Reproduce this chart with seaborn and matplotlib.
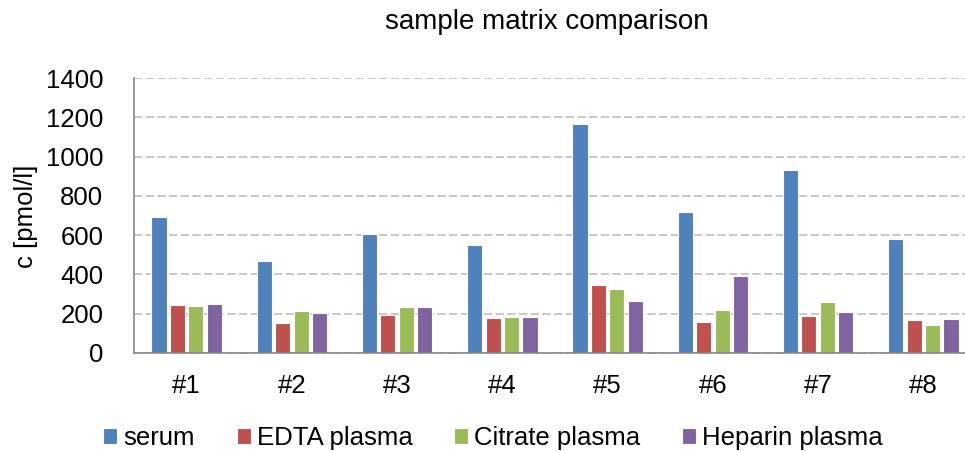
import pandas as pd
import matplotlib.pyplot as plt
import seaborn as sns

# ── data ────────────────────────────────────────────────────────────
samples = ["#1", "#2", "#3", "#4", "#5", "#6", "#7", "#8"]
serum = [692, 470, 608, 551, 1167, 720, 932, 579]
edta_plasma = [243, 152, 191, 177, 345, 160, 186, 167]
citrate_plasma = [238, 213, 235, 184, 324, 221, 262, 145]
heparin_plasma = [248, 203, 235, 182, 267, 390, 211, 171]
matrices = ["serum", "EDTA plasma", "Citrate plasma", "Heparin plasma"]
colors = ["#4F81BD", "#C0504D", "#9BBB59", "#8064A2"]

df = pd.DataFrame({
    "sample": samples * 4,
    "matrix": sum([[m] * len(samples) for m in matrices], []),
    "c": serum + edta_plasma + citrate_plasma + heparin_plasma,
})

sns.set_style("white")
plt.rcParams["font.family"] = ["Liberation Sans", "DejaVu Sans"]
plt.rcParams["text.color"] = "black"
plt.rcParams["xtick.color"] = "black"
plt.rcParams["ytick.color"] = "black"

W, H = 965, 451
fig = plt.figure(figsize=(W / 100, H / 100), dpi=100)
# axes run a little past the right edge, as in the reference
ax = fig.add_axes([134 / W, 1 - 353 / H, 842 / W, 275 / H])

sns.barplot(data=df, x="sample", y="c", hue="matrix", hue_order=matrices,
            palette=colors, width=0.7, gap=0.18, edgecolor="white",
            linewidth=0.8, saturation=1, ax=ax, legend=True)

ax.set_ylim(0, 1400)
ax.set_xlim(-0.5, 7.5)
ax.set_yticks(range(0, 1401, 200))
ax.yaxis.grid(True, linestyle=(0, (5, 2)), color="#BFBFBF", linewidth=1.2)
ax.set_axisbelow(True)
for s in ["top", "right"]:
    ax.spines[s].set_visible(False)
for s in ["left", "bottom"]:
    ax.spines[s].set_color("#868686")
    ax.spines[s].set_linewidth(1.2)
ax.tick_params(axis="y", labelsize=18.5, length=0, pad=22, labelcolor="black")
ax.tick_params(axis="x", labelsize=18.5, length=0, pad=15, labelcolor="black")
ax.set_xlabel("")
ax.set_ylabel("")
fig.text(26 / W, 1 - 216 / H, "c [pmol/l]", rotation=90, ha="center",
         va="center", fontsize=18.5, color="black")
fig.text(547 / W, 1 - 22 / H, "sample matrix comparison", ha="center",
         va="center", fontsize=20, color="black")

leg = ax.legend(loc="center", bbox_to_anchor=(493 / W, 1 - 438 / H),
                bbox_transform=fig.transFigure, ncol=4, frameon=False,
                fontsize=18.5, handlelength=0.55, handleheight=0.55,
                handletextpad=0.23, columnspacing=1.63, borderpad=0)
for t in leg.get_texts():
    t.set_color("black")

fig.savefig("out.png", dpi=100)
